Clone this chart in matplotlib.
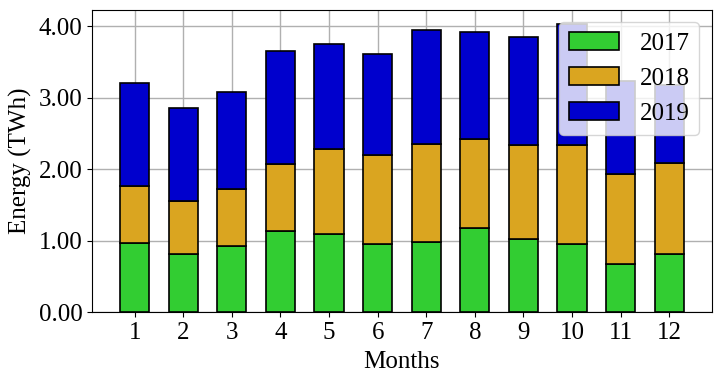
import matplotlib
matplotlib.use('agg')
import matplotlib.pyplot as plt
from matplotlib.ticker import FormatStrFormatter
import numpy as np

months = list(range(1, 13))
e2017 = [0.97, 0.81, 0.93, 1.14, 1.10, 0.95, 0.98, 1.18, 1.03, 0.96, 0.67, 0.81]
e2018 = [0.79, 0.75, 0.79, 0.94, 1.19, 1.25, 1.375, 1.24, 1.31, 1.38, 1.27, 1.28]
e2019 = [1.455, 1.30, 1.36, 1.58, 1.47, 1.41, 1.59, 1.50, 1.51, 1.69, 1.30, 1.09]
years = ['2017', '2018', '2019']
colors = ['#32CD32', '#DAA520', '#0000CD']

plt.rcParams['font.family'] = ['Liberation Serif', 'DejaVu Serif']
plt.rcParams['font.size'] = 18

fig = plt.figure(figsize=(7.22, 3.83), dpi=100)
ax = fig.add_axes([0.1274, 0.185, 0.8586, 0.789])

bottom = np.zeros(len(months))
for vals, lab, col in zip([e2017, e2018, e2019], years, colors):
    ax.bar(months, vals, width=0.6, bottom=bottom, color=col,
           edgecolor='black', linewidth=1.2, label=lab)
    bottom += np.array(vals)

ax.set_xticks(months)
ax.yaxis.set_major_formatter(FormatStrFormatter('%.2f'))
ax.set_yticks([0, 1, 2, 3, 4])
ax.grid(True, color='#b0b0b0', linewidth=1)
ax.set_axisbelow(True)
ax.set_xlabel('Months', labelpad=5)
ax.set_ylabel('Energy (TWh)', labelpad=5)
ax.legend(loc='upper right')

fig.savefig('out.png', dpi=100)
